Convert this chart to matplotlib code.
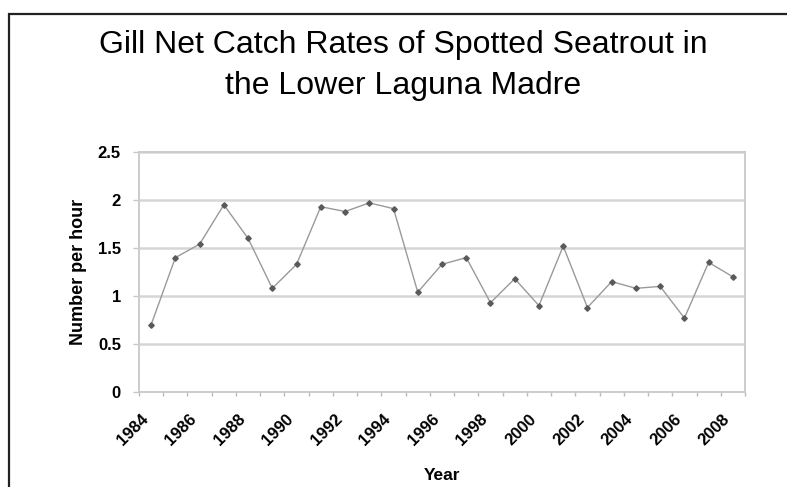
import matplotlib.pyplot as plt
from matplotlib.patches import Rectangle

years = list(range(1984, 2009))
catch_rate = [0.70, 1.40, 1.54, 1.95, 1.60, 1.08, 1.33, 1.93, 1.88, 1.97, 1.91, 1.04,
              1.33, 1.40, 0.93, 1.18, 0.90, 1.52, 0.88, 1.15, 1.08, 1.10, 0.77, 1.35, 1.20]
tick_labels = [str(y) for y in years[::2]]

plt.rcParams['font.family'] = ['Liberation Sans', 'DejaVu Sans']

fig = plt.figure(figsize=(7.87, 4.87), dpi=100)
ax = fig.add_axes([139 / 787, 1 - 392 / 487, (745 - 139) / 787, (392 - 152) / 487])

# outer frame (like the original slide box)
fig.patches.append(Rectangle((9 / 787, -0.1), 1.2, 1 - 14 / 487 + 0.1, transform=fig.transFigure,
                             fill=False, edgecolor='#222222', linewidth=1.6))

x = list(range(len(years)))
ax.plot(x, catch_rate, color='#9a9a9a', linewidth=1.0, marker='D', markersize=2.8,
        markerfacecolor='#5a5a5a', markeredgecolor='#5a5a5a', zorder=3)

ax.set_xlim(-0.5, len(years) - 0.5)
ax.set_ylim(0, 2.5)
ax.set_yticks([0, 0.5, 1, 1.5, 2, 2.5])
ax.set_yticklabels(['0', '0.5', '1', '1.5', '2', '2.5'], fontsize=12, fontweight='bold')
ax.yaxis.grid(True, color='#d6d6d6', linewidth=1.8)
ax.set_axisbelow(True)

ax.set_xticks(x[::2])
ax.set_xticklabels(tick_labels, rotation=45, ha='right', va='top', fontsize=12, fontweight='bold')
ax.set_xticks([i - 0.5 for i in range(len(years) + 1)], minor=True)
ax.tick_params(axis='x', which='major', length=0, pad=14)
ax.tick_params(axis='x', which='minor', length=3, color='#bbbbbb', width=1)
ax.tick_params(axis='y', length=4, color='#c8c8c8', width=1, pad=9)

for s in ax.spines.values():
    s.set_color('#cccccc')
    s.set_linewidth(1.4)

ax.set_ylabel('Number per hour', fontsize=13, fontweight='bold', labelpad=8)
ax.set_xlabel('Year', fontsize=12.5, fontweight='bold', labelpad=14)

fig.text(403 / 787, 1 - 53 / 487, 'Gill Net Catch Rates of Spotted Seatrout in',
         ha='center', va='baseline', fontsize=23)
fig.text(403 / 787, 1 - 94 / 487, 'the Lower Laguna Madre',
         ha='center', va='baseline', fontsize=23)

fig.savefig('out.png', dpi=100)
